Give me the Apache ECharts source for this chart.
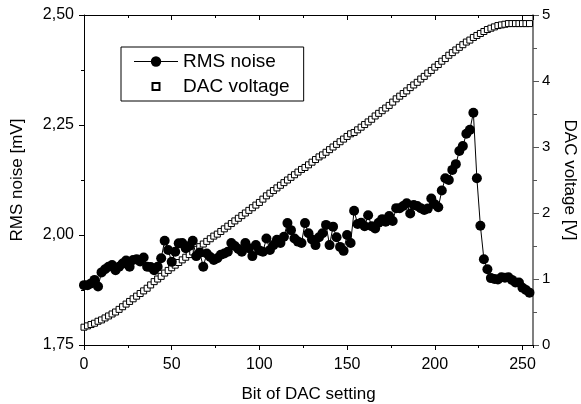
<!DOCTYPE html>
<html><head><meta charset="utf-8">
<script src="https://cdn.jsdelivr.net/npm/echarts@6/dist/echarts.min.js"></script>
<style>html,body{margin:0;padding:0;background:#fff}#c{width:581px;height:404px}</style>
</head><body><div id="c"></div>
<script>
const bits = [0,2,4,6,8,10,12,14,16,18,20,22,24,26,28,30,32,34,36,38,40,42,44,46,48,50,52,54,56,58,60,62,64,66,68,70,72,74,76,78,80,82,84,86,88,90,92,94,96,98,100,102,104,106,108,110,112,114,116,118,120,122,124,126,128,130,132,134,136,138,140,142,144,146,148,150,152,154,156,158,160,162,164,166,168,170,172,174,176,178,180,182,184,186,188,190,192,194,196,198,200,202,204,206,208,210,212,214,216,218,220,222,224,226,228,230,232,234,236,238,240,242,244,246,248,250,252,254];
const rmsNoise = [1.886,1.886,1.890,1.898,1.883,1.915,1.922,1.928,1.932,1.920,1.928,1.935,1.942,1.928,1.943,1.945,1.940,1.949,1.928,1.927,1.920,1.928,1.947,1.987,1.966,1.939,1.962,1.981,1.982,1.970,1.975,1.987,1.952,1.960,1.928,1.958,1.950,1.943,1.947,1.955,1.958,1.962,1.982,1.975,1.968,1.962,1.982,1.970,1.952,1.977,1.965,1.962,1.992,1.966,1.977,1.989,1.982,1.996,2.027,2.011,1.992,1.985,1.982,2.027,2.004,1.990,1.977,1.995,2.004,2.023,1.977,2.019,1.995,1.973,1.964,2.000,1.982,2.055,2.025,2.028,2.020,2.045,2.020,2.015,2.028,2.036,2.030,2.043,2.032,2.061,2.061,2.066,2.072,2.049,2.068,2.066,2.061,2.057,2.060,2.083,2.070,2.063,2.101,2.129,2.125,2.148,2.161,2.191,2.202,2.230,2.239,2.278,2.129,2.021,1.945,1.922,1.902,1.900,1.899,1.904,1.903,1.904,1.898,1.892,1.892,1.880,1.875,1.869];
const dacVoltage = [0.27,0.29,0.31,0.33,0.36,0.38,0.41,0.44,0.47,0.50,0.54,0.58,0.62,0.66,0.70,0.74,0.78,0.82,0.86,0.91,0.96,1.00,1.04,1.09,1.13,1.17,1.21,1.25,1.29,1.33,1.37,1.41,1.45,1.49,1.53,1.57,1.61,1.65,1.68,1.72,1.76,1.80,1.84,1.88,1.92,1.96,2.00,2.04,2.08,2.12,2.16,2.21,2.26,2.30,2.34,2.38,2.42,2.46,2.50,2.54,2.58,2.62,2.66,2.69,2.73,2.77,2.81,2.85,2.88,2.92,2.96,3.00,3.04,3.08,3.12,3.16,3.20,3.22,3.26,3.30,3.34,3.38,3.42,3.47,3.51,3.55,3.59,3.63,3.68,3.73,3.77,3.81,3.85,3.90,3.94,3.98,4.03,4.07,4.12,4.16,4.21,4.25,4.30,4.34,4.39,4.43,4.47,4.51,4.55,4.59,4.62,4.66,4.69,4.72,4.75,4.78,4.80,4.82,4.84,4.85,4.86,4.87,4.87,4.87,4.87,4.87,4.87,4.87];
const xTicks = [0,50,100,150,200,250];
const leftTicks = [1.75,2.00,2.25,2.50];
const rightTicks = [0,1,2,3,4,5];
const seriesNames = ['RMS noise','DAC voltage'];
const axisTitles = {x:'Bit of DAC setting', left:'RMS noise [mV]', right:'DAC voltage [V]'};

const FONT = '"Liberation Sans", Arial, sans-serif';
const noiseData = bits.map((b,i)=>[b, rmsNoise[i]]);
const dacData = bits.map((b,i)=>[b, dacVoltage[i]]);

const chart = echarts.init(document.getElementById('c'), null, {renderer:'canvas'});
const xBase = {type:'value', min:0, max:256, gridIndex:0};
chart.setOption({
  animation:false,
  backgroundColor:'#fff',
  grid:{left:84, right:48, top:15, bottom:59, containLabel:false, outerBoundsMode:'none'},
  legend:{
    left:121, top:47, orient:'vertical',
    itemWidth:44, itemHeight:13, itemGap:6,
    padding:[5,14,5,12],
    borderColor:'#000', borderWidth:1, borderRadius:0,
    lineStyle:{width:1},
    textStyle:{fontFamily:FONT, fontSize:19, color:'#000'},
    data:[{name:seriesNames[0]},{name:seriesNames[1], icon:'path://M0,0M44,13M18.5,3h7v7h-7Z'}]
  },
  xAxis:[
    Object.assign({}, xBase, {position:'bottom', interval:50,
      name:axisTitles.x, nameLocation:'middle', nameGap:41,
      nameTextStyle:{fontFamily:FONT, fontSize:17, color:'#000'},
      axisLine:{show:true, onZero:false, lineStyle:{color:'#000', width:1}},
      axisTick:{show:true, inside:false, length:5, lineStyle:{color:'#000'}},
      axisLabel:{show:true, margin:12, fontFamily:FONT, fontSize:16, color:'#000', showMaxLabel:false,
        formatter:v=> xTicks.includes(v) ? String(v) : ''},
      splitLine:{show:false}}),
    Object.assign({}, xBase, {position:'bottom', interval:25,
      axisLine:{show:false}, axisTick:{show:true, inside:false, length:3, lineStyle:{color:'#000'}},
      axisLabel:{show:false}, splitLine:{show:false}}),
    Object.assign({}, xBase, {position:'top', interval:50,
      axisLine:{show:true, onZero:false, lineStyle:{color:'#000', width:1}},
      axisTick:{show:true, inside:true, length:5, lineStyle:{color:'#000'}},
      axisLabel:{show:false}, splitLine:{show:false}}),
    Object.assign({}, xBase, {position:'top', interval:25,
      axisLine:{show:false}, axisTick:{show:true, inside:true, length:3, lineStyle:{color:'#000'}},
      axisLabel:{show:false}, splitLine:{show:false}})
  ],
  yAxis:[
    {type:'value', position:'left', min:1.75, max:2.5, interval:0.25,
      name:axisTitles.left, nameLocation:'middle', nameGap:58, nameRotate:90,
      nameTextStyle:{fontFamily:FONT, fontSize:17, color:'#000'},
      axisLine:{show:true, onZero:false, lineStyle:{color:'#000', width:1}},
      axisTick:{show:true, inside:false, length:5, lineStyle:{color:'#000'}},
      minorTick:{show:true, splitNumber:2, length:3, lineStyle:{color:'#000'}},
      axisLabel:{margin:10, fontFamily:FONT, fontSize:16, color:'#000',
        formatter:v=> leftTicks.some(t=>Math.abs(t-v)<1e-9) ? v.toFixed(2).replace('.',',') : ''},
      splitLine:{show:false}},
    {type:'value', position:'right', min:0, max:5, interval:1,
      name:axisTitles.right, nameLocation:'middle', nameGap:25, nameRotate:-90,
      nameTextStyle:{fontFamily:FONT, fontSize:17, color:'#000'},
      axisLine:{show:true, onZero:false, lineStyle:{color:'#555', width:1.5}},
      axisTick:{show:true, inside:false, length:6, lineStyle:{color:'#555'}},
      minorTick:{show:true, splitNumber:2, length:4, lineStyle:{color:'#555'}},
      axisLabel:{margin:9, fontFamily:FONT, fontSize:15, color:'#000',
        formatter:v=> rightTicks.includes(v) ? String(v) : ''},
      splitLine:{show:false}}
  ],
  series:[
    {name:seriesNames[1], type:'scatter', xAxisIndex:0, yAxisIndex:1, data:dacData,
      symbol:'rect', symbolSize:6, z:2,
      itemStyle:{color:'#fff', borderColor:'#000', borderWidth:1, opacity:1}},
    {name:seriesNames[0], type:'line', xAxisIndex:0, yAxisIndex:0, data:noiseData,
      symbol:'circle', symbolSize:10, showAllSymbol:true, z:3,
      lineStyle:{color:'#000', width:1},
      itemStyle:{color:'#000', borderColor:'#000', borderWidth:0}}
  ]
});
</script></body></html>
